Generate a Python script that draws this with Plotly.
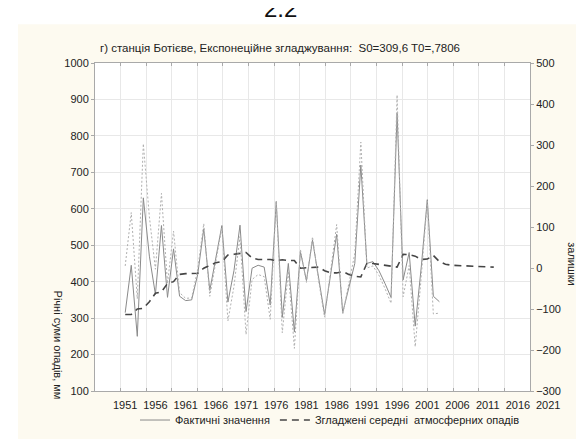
import plotly.graph_objects as go

# ---------------- data ----------------
years_actual = list(range(1951, 2004))
actual = [315, 445, 250, 630, 470, 365, 554, 357, 490, 360,
          348, 350, 420, 545, 376, 470, 554, 344, 430, 555,
          318, 437, 445, 440, 336, 620, 302, 450, 262, 482,
          403, 514, 410, 310, 420, 530, 315, 380, 450, 720,
          450, 455, 430, 395, 357, 862, 405, 480, 278, 440,
          625, 360, 345]

years_smoothed = list(range(1951, 2013))
smoothed = [310, 310, 325, 327, 345, 368, 372, 395, 400, 420,
            422, 423, 423, 437, 445, 452, 455, 473, 475, 478,
            480, 465, 461, 461, 461, 458, 460, 458, 458, 437,
            438, 438, 440, 430, 424, 424, 428, 420, 415, 413,
            450, 450, 448, 445, 443, 440, 475, 474, 470, 461,
            462, 472, 455, 448, 445, 444, 443, 442, 441, 441,
            441, 440]

residuals = [5, 135, -75, 303, 125, -3, 182, -38, 90, -60,
             -74, -73, -3, 108, -69, 18, 99, -129, -45, 77,
             -162, -28, -16, -21, -125, 162, -158, -8, -196, 45,
             -35, 76, -30, -120, -4, 106, -113, -40, 35, 307,
             0, 5, -18, -50, -86, 422, -70, 6, -192, -21,
             163, -112, -110]

year_labels = list(range(1951, 2022, 5))
left_ticks = list(range(100, 1001, 100))
right_ticks = list(range(-300, 501, 100))

title_text = "г) станція Ботієве, Експонеційне згладжування:  S0=309,6 T0=,7806"
name_actual = "Фактичні значення"
name_smooth = "Згладжені середні  атмосферних опадів"
left_title = "Річні суми опадів, мм"
right_title = "залишки"

# ---------------- layout geometry ----------------
W, H = 584, 439
L, T = 87, 55
PLOT_R = 522          # right edge of the framed plot
LABEL_R = 560         # right edge of the label axis
B = 394
area_w = LABEL_R - L
area_h = B - T
main_frac = (PLOT_R - L) / area_w
x_min, x_max = 1946, 2018
x2_max = x_min + (x_max - x_min) * area_w / (PLOT_R - L)

FONT = "Liberation Sans, Arial, sans-serif"
TXT = "#222222"
GRID = "#e8e8e8"
AXL = "#a9a9a9"
CREAM = "#fdfaf0"

def px_x(p):
    return (p - L) / area_w

def px_y(p):
    return (B - p) / area_h

fig = go.Figure()

fig.add_trace(go.Scatter(
    x=years_actual, y=actual, mode="lines", name=name_actual,
    line=dict(color="#8a8a8a", width=1), hoverinfo="skip"))
fig.add_trace(go.Scatter(
    x=years_smoothed, y=smoothed, mode="lines", name=name_smooth,
    line=dict(color="#454545", width=1.6, dash="7px,5px"), hoverinfo="skip"))
fig.add_trace(go.Scatter(
    x=years_actual, y=residuals, mode="lines", yaxis="y2", showlegend=False,
    line=dict(color="#b0b0b0", width=1, dash="2px,2px"), hoverinfo="skip"))
# empty trace that carries the label axis
fig.add_trace(go.Scatter(x=[], y=[], xaxis="x2", yaxis="y3",
                         showlegend=False, hoverinfo="skip"))

fig.update_layout(
    width=W, height=H,
    margin=dict(l=L, r=W - LABEL_R, t=T, b=H - B, pad=0),
    paper_bgcolor="white",
    plot_bgcolor="rgba(0,0,0,0)",
    font=dict(family=FONT, size=11, color=TXT),
    showlegend=True,
    title=dict(text=title_text, xref="container", x=272 / W, xanchor="center",
               yref="container", y=1 - 40 / H, yanchor="middle",
               font=dict(family=FONT, size=11.5, color=TXT)),
    xaxis=dict(domain=[0, main_frac], range=[x_min, x_max],
               tick0=x_min, dtick=(x_max - x_min) / 17,
               showticklabels=False, showgrid=True, gridcolor=GRID, gridwidth=1,
               ticks="inside", ticklen=3, tickcolor=AXL,
               showline=True, linecolor=AXL, linewidth=1, mirror="ticks",
               zeroline=False, anchor="y"),
    yaxis=dict(domain=[0, 1], range=[100, 1000], tickvals=left_ticks,
               showgrid=True, gridcolor=GRID, gridwidth=1,
               ticks="outside", ticklen=3, tickcolor=AXL,
               showline=True, linecolor=AXL, linewidth=1, mirror=True,
               zeroline=False, anchor="x", tickfont=dict(size=11, color=TXT)),
    yaxis2=dict(overlaying="y", side="right", anchor="free", position=main_frac,
                range=[-300, 500], tickvals=right_ticks,
                showgrid=False, zeroline=False,
                ticks="outside", ticklen=3, tickcolor=AXL,
                showline=True, linecolor=AXL, linewidth=1,
                tickfont=dict(size=11, color=TXT)),
    xaxis2=dict(domain=[0, 1], range=[x_min, x2_max], anchor="y3",
                tickvals=year_labels, ticktext=[str(v) for v in year_labels],
                showgrid=False, showline=False, zeroline=False,
                ticks="outside", ticklen=4, tickcolor="rgba(0,0,0,0)",
                tickfont=dict(size=11, color=TXT)),
    yaxis3=dict(domain=[0, 1], range=[0, 1], anchor="x2",
                showgrid=False, showline=False, zeroline=False,
                showticklabels=False, ticks=""),
    legend=dict(orientation="h", x=px_x(322), xanchor="center",
                y=px_y(424), yanchor="middle", bgcolor="rgba(0,0,0,0)",
                font=dict(size=11, color=TXT), itemwidth=30,
                tracegroupgap=0),
    shapes=[
        dict(type="rect", xref="paper", yref="paper", layer="below",
             x0=px_x(10), x1=px_x(W + 5), y0=px_y(H + 5), y1=px_y(15),
             fillcolor=CREAM, line=dict(width=0)),
        dict(type="rect", xref="paper", yref="paper", layer="below",
             x0=0, x1=main_frac, y0=0, y1=1,
             fillcolor="white", line=dict(width=0)),
    ],
    annotations=[
        dict(text="2.2", xref="paper", yref="paper", x=px_x(272), y=1,
             xanchor="center", yanchor="bottom", yshift=T - 16, showarrow=False,
             font=dict(family=FONT, size=24, color="#111111")),
        dict(text=left_title, xref="paper", yref="paper", x=px_x(50), y=px_y(346),
             xanchor="center", yanchor="middle", textangle=90, showarrow=False,
             font=dict(family=FONT, size=11, color=TXT)),
        dict(text=right_title, xref="paper", yref="paper", x=px_x(564), y=px_y(263),
             xanchor="center", yanchor="middle", textangle=90, showarrow=False,
             font=dict(family=FONT, size=11, color=TXT)),
    ],
)

fig.write_html("out.html")
